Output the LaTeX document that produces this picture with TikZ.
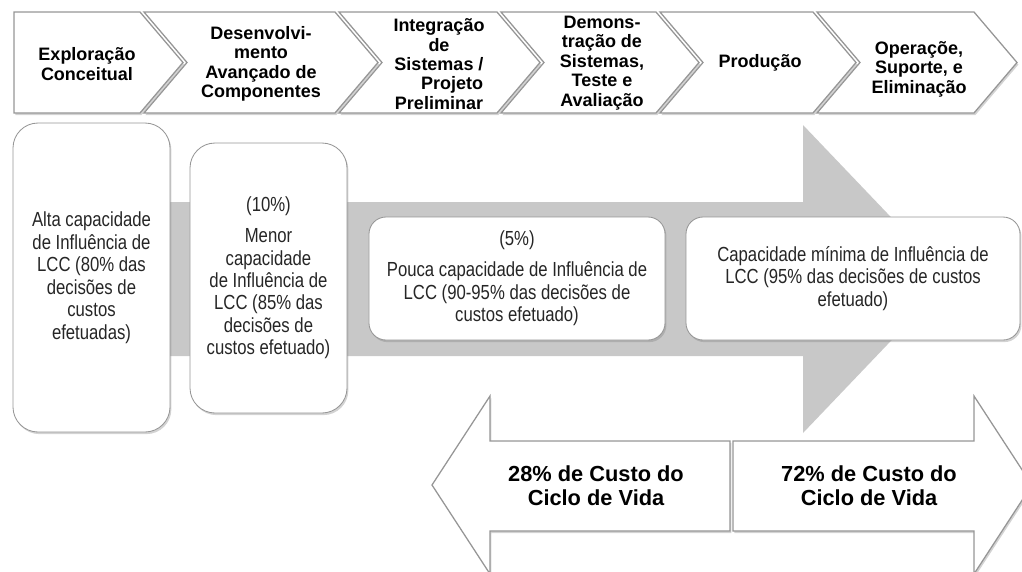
\documentclass[tikz,border=0pt]{standalone}
\usepackage{fontspec}
\setmainfont{Liberation Sans}
\newfontfamily\narrowfont[FakeStretch=0.82]{Liberation Sans}
\usetikzlibrary{shadows}
\definecolor{setagris}{RGB}{200,200,200}
\definecolor{bordagris}{RGB}{150,150,150}

\begin{document}
\begin{tikzpicture}[x=0.25mm,y=-0.25mm,
  sombra/.style={drop shadow={opacity=0.35,shadow xshift=1pt,shadow yshift=-1.5pt}},
  fase/.style={draw=bordagris,line width=0.9pt,fill=white,sombra},
  fasetxt/.style={align=center,font=\bfseries\fontsize{12.8}{13.8}\selectfont},
  caixa/.style={draw=bordagris,line width=0.6pt,fill=white,sombra,align=center,inner sep=0pt,
                font=\narrowfont\fontsize{14.5}{16}\selectfont,text=black!85},
  custotxt/.style={align=center,font=\bfseries\fontsize{15.5}{17}\selectfont}]
\useasboundingbox (0,0) rectangle (1022,571);
\clip (0,0) rectangle (1022,571);

\fill[setagris] (100,202) -- (803,202) -- (803,125) -- (950,279) -- (803,433) -- (803,356) -- (100,356) -- cycle;

\node[caixa,minimum width=39.25mm,minimum height=77.25mm,rounded corners=6.25mm] (alta)   at (91.5,277.5)
  {Alta capacidade\\de Influência de\\LCC (80\% das\\decisões de\\custos\\efetuadas)};
\node[caixa,minimum width=39.25mm,minimum height=67.5mm,rounded corners=6.25mm]  (menor)  at (268.5,278)
  {(10\%)\\[6pt]Menor\\capacidade\\de Influência de\\LCC (85\% das\\decisões de\\custos efetuado)};
\node[caixa,minimum width=74mm,minimum height=30.75mm,rounded corners=4.25mm]    (pouca)  at (517,278.5)
  {(5\%)\\[6pt]Pouca capacidade de Influência de\\LCC (90-95\% das decisões de\\custos efetuado)};
\node[caixa,minimum width=83.5mm,minimum height=30.75mm,rounded corners=4.25mm]  (minima) at (853,278.5)
  {Capacidade mínima de Influência de\\LCC (95\% das decisões de custos\\efetuado)};

\draw[fase] (14,12)  -- (140,12) -- (183,62.5) -- (140,113) -- (14,113)  -- cycle;
\draw[fase] (144,12) -- (335,12) -- (378,62.5) -- (335,113) -- (144,113) -- (187,62.5) -- cycle;
\draw[fase] (339,12) -- (497,12) -- (540,62.5) -- (497,113) -- (339,113) -- (382,62.5) -- cycle;
\draw[fase] (501,12) -- (656,12) -- (699,62.5) -- (656,113) -- (501,113) -- (544,62.5) -- cycle;
\draw[fase] (660,12) -- (813,12) -- (856,62.5) -- (813,113) -- (660,113) -- (703,62.5) -- cycle;
\draw[fase] (817,12) -- (974,12) -- (1017,62.5) -- (974,113) -- (817,113) -- (860,62.5) -- cycle;

\node[fasetxt] (exploracao)    at (87,64)  {Exploração\\Conceitual};
\node[fasetxt] (desenvolvim)   at (261,64) {Desenvolvi-\\mento\\Avançado de\\Componentes};
\node[fasetxt] (integracao)    at (439,64) {Integração\\de\\Sistemas /\\\hspace*{1.445em}Projeto\\Preliminar};
\node[fasetxt] (demonstracao)  at (602,63) {Demons-\\tração de\\Sistemas,\\Teste e\\Avaliação};
\node[fasetxt] (producao)      at (760,63) {Produção};
\node[fasetxt] (operacao)      at (919,69) {Operaçõe,\\Suporte, e\\Eliminação};

\draw[fase] (432,485) -- (490,396) -- (490,441) -- (730,441) -- (730,531) -- (490,531) -- (490,574) -- cycle;
\draw[fase] (733,441) -- (974,441) -- (974,396) -- (1032,485) -- (974,574) -- (974,531) -- (733,531) -- cycle;
\node[custotxt] (custo28) at (596,486) {28\% de Custo do\\Ciclo de Vida};
\node[custotxt] (custo72) at (869,486) {72\% de Custo do\\Ciclo de Vida};
\end{tikzpicture}
\end{document}
